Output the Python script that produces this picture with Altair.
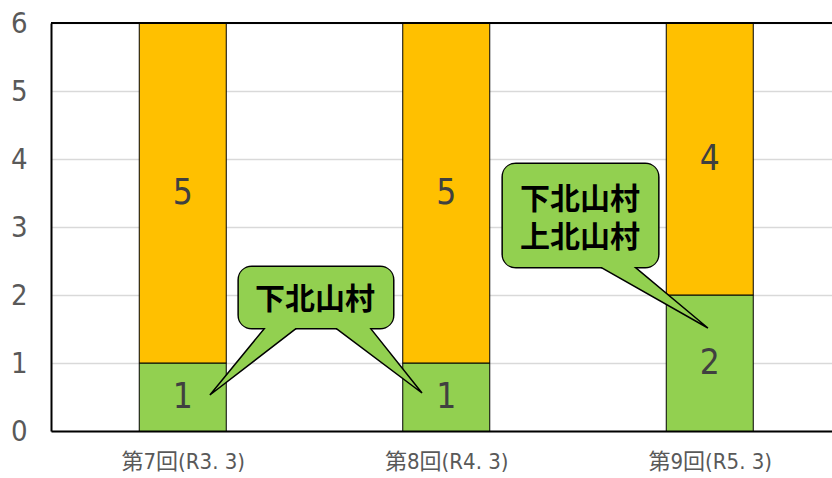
import json
import altair as alt
import pandas as pd

# ---------------- data ----------------
categories = ["第7回(R3. 3)", "第8回(R4. 3)", "第9回(R5. 3)"]
green_values = [1, 1, 2]
orange_values = [5, 5, 4]

# callout annotations (data coordinates: x = category index, y = value)
callout_texts = ["下北山村", "下北山村\n上北山村"]
callout_text_x = [1.502, 2.508]
callout_text_y = [1.926, 3.397]
box_x1 = [1.213, 2.215]
box_x2 = [1.798, 2.804]
box_y1 = [1.515, 2.412]
box_y2 = [2.412, 3.926]

pointer_id = [1, 1, 1, 2, 2, 2, 3, 3, 3]
pointer_seq = [0, 1, 2, 0, 1, 2, 0, 1, 2]
pointer_x = [1.324, 1.103, 1.453, 1.559, 1.908, 1.699, 2.557, 2.993, 2.697]
pointer_y = [1.575, 0.529, 1.575, 1.575, 0.559, 1.575, 2.472, 1.515, 2.472]

GREEN = "#92D050"
ORANGE = "#FFC000"
AX_FONT = "Liberation Sans Narrow, DejaVu Sans Condensed, Noto Sans CJK JP"
CJK_FONT = "Noto Sans CJK JP"

# ---------------- tables ----------------
rows = []
for i, (cat, g, o) in enumerate(zip(categories, green_values, orange_values)):
    rows.append(dict(idx=i + 1, cat=cat, series="green", v=g, y0=0, y1=g, mid=g / 2))
    rows.append(dict(idx=i + 1, cat=cat, series="orange", v=o, y0=g, y1=g + o, mid=g + o / 2))
bars = pd.DataFrame(rows)

boxes = pd.DataFrame(dict(x1=box_x1, x2=box_x2, y1=box_y1, y2=box_y2))
texts = pd.DataFrame(dict(t=callout_texts, x=callout_text_x, y=callout_text_y))
pointers = pd.DataFrame(dict(pid=pointer_id, seq=pointer_seq, x=pointer_x, y=pointer_y))

xscale = alt.Scale(domain=[0.5, 0.5 + 781 / 263.5], nice=False, zero=False, padding=0)
yscale = alt.Scale(domain=[0, 6], nice=False, padding=0)

label_expr = json.dumps(categories, ensure_ascii=False) + "[datum.value - 1]"

base_x = alt.X(
    "idx:Q", scale=xscale, title=None,
    axis=alt.Axis(values=[1, 2, 3], labelExpr=label_expr, grid=False, ticks=False,
                  domain=True, domainColor="black", domainWidth=2,
                  labelFont=AX_FONT, labelFontSize=22, labelColor="#595959",
                  labelPadding=20),
)
base_y = alt.Y(
    "y0:Q", scale=yscale, title=None,
    axis=alt.Axis(values=[0, 1, 2, 3, 4, 5, 6], format="d", grid=True, gridColor="#D9D9D9",
                  gridWidth=1.5, ticks=False, domain=True, domainColor="black",
                  domainWidth=2, labelFont=AX_FONT, labelFontSize=29,
                  labelColor="#595959", labelPadding=24),
)

bar_layer = alt.Chart(bars).mark_bar(size=87, stroke="black", strokeWidth=1).encode(
    x=base_x,
    y=base_y,
    y2="y1:Q",
    color=alt.Color("series:N", scale=alt.Scale(domain=["green", "orange"], range=[GREEN, ORANGE]),
                    legend=None),
)

top_rule = alt.Chart(bars).mark_rule(color="black", strokeWidth=2).encode(
    y=alt.datum(6, scale=yscale)
)

value_labels = alt.Chart(bars).mark_text(
    font=AX_FONT, fontSize=35, color="#404040", baseline="middle"
).encode(
    x=alt.X("idx:Q", scale=xscale),
    y=alt.Y("mid:Q", scale=yscale),
    text="v:Q",
)

box_stroke = alt.Chart(boxes).mark_rect(
    fill=GREEN, stroke="black", strokeWidth=3, cornerRadius=13
).encode(
    x=alt.X("x1:Q", scale=xscale), x2="x2:Q",
    y=alt.Y("y1:Q", scale=yscale), y2="y2:Q",
)

pointer_layer = alt.Chart(pointers).mark_line(
    fill=GREEN, stroke="black", strokeWidth=1.5, strokeJoin="miter"
).encode(
    x=alt.X("x:Q", scale=xscale),
    y=alt.Y("y:Q", scale=yscale),
    detail="pid:N",
    order="seq:Q",
)

box_fill = alt.Chart(boxes).mark_rect(fill=GREEN, strokeWidth=0, cornerRadius=12).encode(
    x=alt.X("x1:Q", scale=xscale), x2="x2:Q",
    y=alt.Y("y1:Q", scale=yscale), y2="y2:Q",
)

callout_text = alt.Chart(texts).mark_text(
    font=CJK_FONT, fontSize=30, fontWeight="bold", color="black",
    lineBreak="\n", lineHeight=38, baseline="middle"
).encode(
    x=alt.X("x:Q", scale=xscale),
    y=alt.Y("y:Q", scale=yscale),
    text="t:N",
)

chart = alt.layer(
    bar_layer, top_rule, value_labels, box_stroke, pointer_layer, box_fill, callout_text
).properties(
    width=781, height=408,
    padding={"left": 51, "top": 23, "right": 0, "bottom": 47},
    autosize=alt.AutoSizeParams(type="none"),
).configure_view(stroke=None).configure(background="white")

chart.save("out.html", embed_options={"renderer": "svg", "actions": False})
